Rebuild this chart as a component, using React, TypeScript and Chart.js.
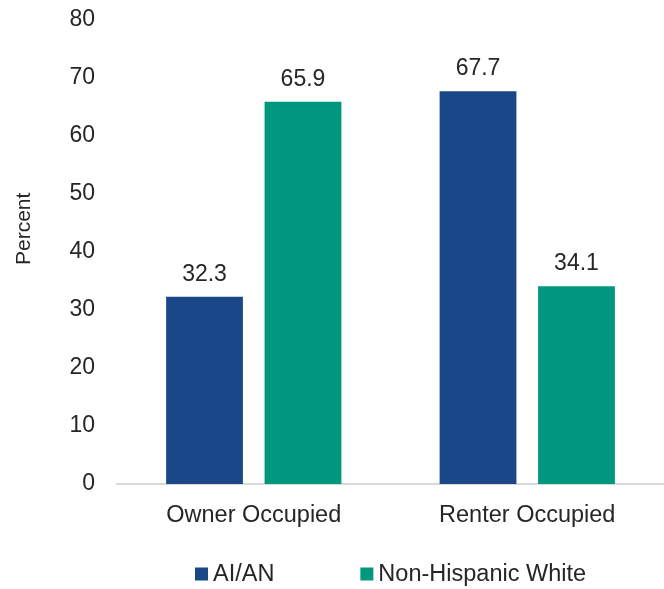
import React, { useEffect, useRef } from 'react';
import { Chart, registerables } from 'chart.js';

Chart.register(...registerables);

const categories = ['Owner Occupied', 'Renter Occupied'];
const seriesNames = ['AI/AN', 'Non-Hispanic White'];
const aianValues = [32.3, 67.7];
const whiteValues = [65.9, 34.1];
const seriesColors = ['#1a4788', '#00977f'];
const yMin = 0;
const yMax = 80;
const yStep = 10;
const yTitle = 'Percent';

const FONT = "'Liberation Sans', Arial, sans-serif";
const TEXT = '#262626';

const dataLabelPlugin = {
  id: 'dataLabels',
  afterDatasetsDraw(chart: any) {
    const ctx = chart.ctx;
    ctx.save();
    ctx.font = `23px ${FONT}`;
    ctx.fillStyle = TEXT;
    ctx.textAlign = 'center';
    ctx.textBaseline = 'alphabetic';
    chart.data.datasets.forEach((ds: any, i: number) => {
      const meta = chart.getDatasetMeta(i);
      meta.data.forEach((bar: any, j: number) => {
        ctx.fillText(Number(ds.data[j]).toFixed(1), bar.x, bar.y - 16);
      });
    });
    ctx.restore();
  },
};

const yTitlePlugin = {
  id: 'yTitleCustom',
  afterDraw(chart: any) {
    const ctx = chart.ctx;
    const area = chart.chartArea;
    ctx.save();
    ctx.font = `21px ${FONT}`;
    ctx.fillStyle = TEXT;
    ctx.textAlign = 'center';
    ctx.textBaseline = 'middle';
    ctx.translate(24, area.top + (area.bottom - area.top) * 0.45);
    ctx.rotate(-Math.PI / 2);
    ctx.fillText(yTitle, 0, 0);
    ctx.restore();
  },
};

const legendPlugin = {
  id: 'customLegend',
  afterDraw(chart: any) {
    const ctx = chart.ctx;
    const area = chart.chartArea;
    const box = 13;
    const gap = 5;
    const itemGap = 86;
    ctx.save();
    ctx.font = `23.5px ${FONT}`;
    const widths = chart.data.datasets.map((ds: any) => ctx.measureText(ds.label).width);
    const total = widths.reduce((a: number, w: number) => a + box + gap + w, 0) + itemGap * (widths.length - 1);
    let x = (area.left + area.right) / 2 - total / 2;
    const cy = 574;
    chart.data.datasets.forEach((ds: any, i: number) => {
      ctx.fillStyle = ds.backgroundColor;
      ctx.fillRect(x, cy - box / 2, box, box);
      ctx.fillStyle = TEXT;
      ctx.textAlign = 'left';
      ctx.textBaseline = 'middle';
      ctx.fillText(ds.label, x + box + gap, cy + 1);
      x += box + gap + widths[i] + itemGap;
    });
    ctx.restore();
  },
};

function BarChart() {
  const canvasRef = useRef<HTMLCanvasElement | null>(null);

  useEffect(() => {
    const canvas = canvasRef.current;
    if (!canvas) return;
    const chart = new Chart(canvas, {
      type: 'bar',
      data: {
        labels: categories,
        datasets: [
          { label: seriesNames[0], data: aianValues, backgroundColor: seriesColors[0] },
          { label: seriesNames[1], data: whiteValues, backgroundColor: seriesColors[1] },
        ],
      },
      options: {
        responsive: false,
        animation: false,
        devicePixelRatio: 1,
        layout: { padding: { top: 20, right: 0, left: 0, bottom: 0 } },
        datasets: {
          bar: { categoryPercentage: 0.72, barPercentage: 0.78 },
        },
        plugins: {
          legend: { display: false },
          tooltip: { enabled: false },
          title: { display: false },
        },
        scales: {
          x: {
            grid: { display: false, drawTicks: false },
            border: { display: true, color: '#d9d9d9', width: 2 },
            ticks: { color: TEXT, font: { family: FONT, size: 23.5 }, padding: 17 },
            afterFit: (s: any) => { s.height = 105; s.paddingLeft = 0; s.paddingRight = 0; },
          },
          y: {
            min: yMin,
            max: yMax,
            grid: { display: false, drawTicks: false },
            border: { display: false },
            ticks: { stepSize: yStep, color: TEXT, font: { family: FONT, size: 23 }, padding: 22 },
            afterFit: (s: any) => { s.width = 117; s.paddingTop = 0; s.paddingBottom = 0; },
          },
        },
      },
      plugins: [dataLabelPlugin, yTitlePlugin, legendPlugin],
    });
    return () => chart.destroy();
  }, []);

  return <canvas ref={canvasRef} width={664} height={589} style={{ display: 'block', width: 664, height: 589 }} />;
}

export default function App() {
  return (
    <div style={{ position: 'absolute', left: 0, top: 0, width: 664, height: 589, background: '#ffffff' }}>
      <BarChart />
    </div>
  );
}
